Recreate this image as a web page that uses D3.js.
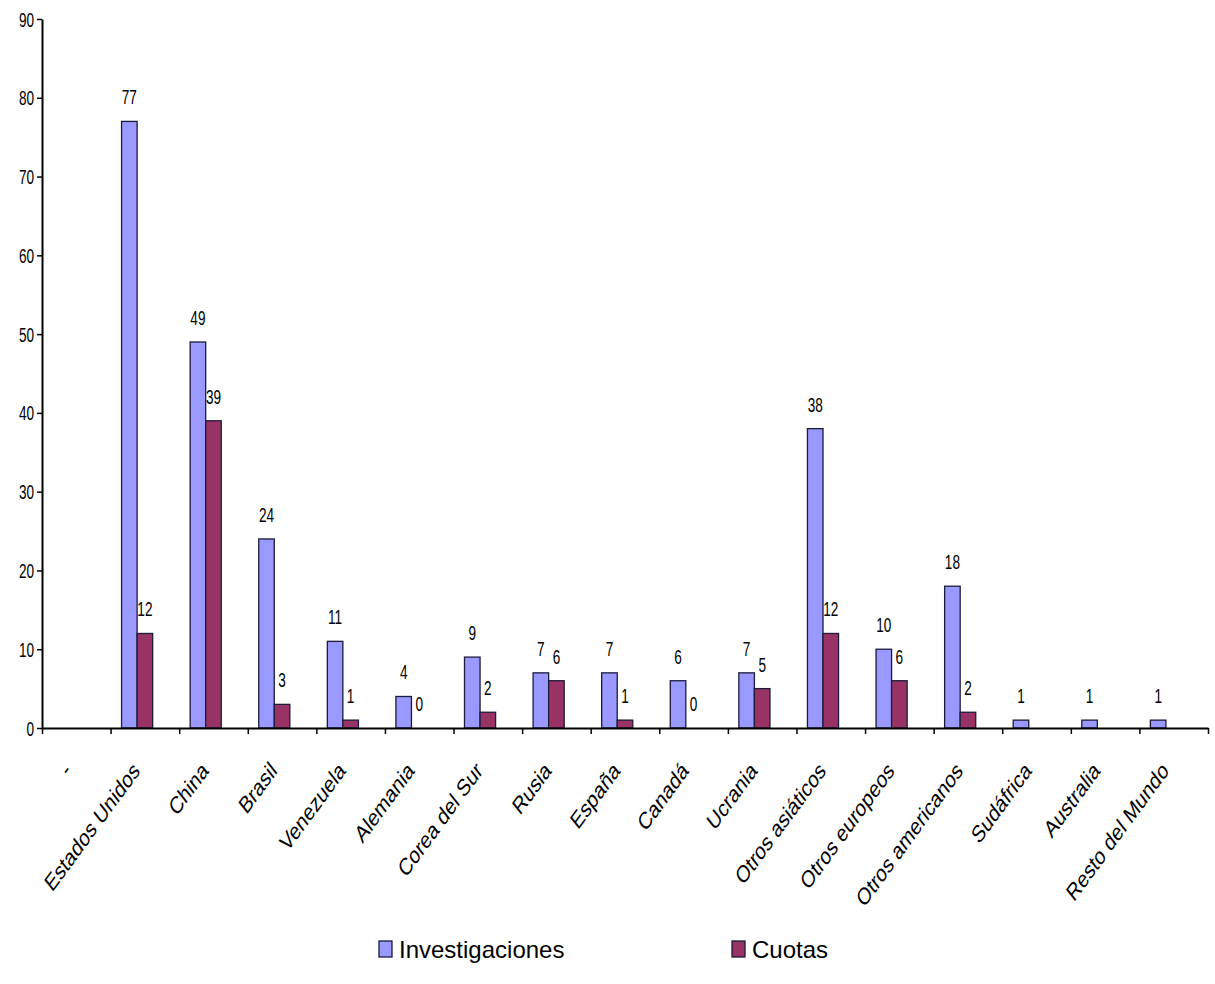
<!DOCTYPE html>
<html>
<head>
<meta charset="utf-8">
<script src="https://cdn.jsdelivr.net/npm/d3@7/dist/d3.min.js"></script>
<style>
  html, body { margin: 0; padding: 0; background: #fff; }
  svg { display: block; }
  text { font-family: "Liberation Sans", Arial, sans-serif; fill: #000; }
</style>
</head>
<body>
<svg id="chart" width="1215" height="984"></svg>
<script>
// Países / regiones
const categories = ["-", "Estados Unidos", "China", "Brasil", "Venezuela", "Alemania",
  "Corea del Sur", "Rusia", "España", "Canadá", "Ucrania", "Otros asiáticos",
  "Otros europeos", "Otros americanos", "Sudáfrica", "Australia", "Resto del Mundo"];

// Series
const seriesNames = ["Investigaciones", "Cuotas"];
const investigaciones = [null, 77, 49, 24, 11, 4, 9, 7, 7, 6, 7, 38, 10, 18, 1, 1, 1];
const cuotas = [null, 12, 39, 3, 1, 0, 2, 6, 1, 0, 5, 12, 6, 2, null, null, null];

const yTicks = [0, 10, 20, 30, 40, 50, 60, 70, 80, 90];
const colors = ["#9999FF", "#993366"];

const svg = d3.select("#chart");
const plotLeft = 42, plotRight = 1208, plotTop = 19, plotBottom = 728;

const x0 = d3.scaleBand().domain(categories).range([plotLeft, plotRight]).padding(0);
const y = d3.scaleLinear().domain([0, 90]).range([plotBottom, plotTop]);

// Three slots per cluster; the last one stays empty, so bars sit left of centre
const groupW = x0.bandwidth() * 0.68;
const x1 = d3.scaleBand().domain([0, 1, 2]).range([-groupW / 2, groupW / 2]);

const values = [investigaciones, cuotas];
const bars = [];
values.forEach((vals, s) => {
  vals.forEach((v, i) => {
    if (v !== null) bars.push({ s, cat: categories[i], v });
  });
});

// Bars
svg.append("g").selectAll("rect").data(bars).join("rect")
  .attr("x", d => x0(d.cat) + x0.bandwidth() / 2 + x1(d.s))
  .attr("width", x1.bandwidth())
  .attr("y", d => y(d.v))
  .attr("height", d => y(0) - y(d.v))
  .attr("fill", d => colors[d.s])
  .attr("stroke", "#1b1b3a")
  .attr("stroke-width", 1.3);

// Value labels
svg.append("g").selectAll("text").data(bars).join("text")
  .attr("text-anchor", "middle")
  .attr("font-size", 20)
  .attr("transform", d => {
    const cx = x0(d.cat) + x0.bandwidth() / 2 + x1(d.s) + x1.bandwidth() / 2;
    return `translate(${cx},${y(d.v) - 17}) scale(0.68,1)`;
  })
  .text(d => d.v);

// Y axis
const yAxis = svg.append("g")
  .attr("transform", `translate(${plotLeft},0)`)
  .call(d3.axisLeft(y).tickValues(yTicks).tickSize(5).tickSizeOuter(0));
yAxis.select(".domain").attr("stroke", "#000").attr("stroke-width", 2);
yAxis.selectAll(".tick line").attr("stroke", "#000").attr("stroke-width", 1.5);
yAxis.selectAll(".tick text")
  .attr("x", 0).attr("dy", "0.35em")
  .attr("font-size", 20)
  .attr("font-family", "Liberation Sans, Arial, sans-serif")
  .attr("transform", "translate(-8,0) scale(0.68,1)");

// X axis: tick marks on the category boundaries
const xb = d3.scaleLinear().domain([0, categories.length]).range([plotLeft, plotRight]);
const xAxis = svg.append("g")
  .attr("transform", `translate(0,${plotBottom})`)
  .call(d3.axisBottom(xb).tickValues(d3.range(categories.length + 1)).tickSize(6).tickSizeOuter(0).tickFormat(""));
xAxis.select(".domain").attr("stroke", "#000").attr("stroke-width", 2);
xAxis.selectAll(".tick line").attr("stroke", "#000").attr("stroke-width", 1.5);

// Category labels, rotated
const xLab = svg.append("g")
  .attr("transform", `translate(0,${plotBottom})`)
  .call(d3.axisBottom(x0).tickSize(0).tickSizeOuter(0));
xLab.select(".domain").remove();
xLab.selectAll(".tick text")
  .attr("x", 0).attr("y", 0).attr("dy", 0)
  .attr("text-anchor", "end")
  .attr("font-size", 24)
  .attr("font-family", "Liberation Sans, Arial, sans-serif")
  .attr("transform", "translate(-4,44) scale(0.76,1) rotate(-46)");

// Legend
const legendX = [379, 732];
const legend = svg.append("g").selectAll("g").data(seriesNames).join("g")
  .attr("transform", (d, i) => `translate(${legendX[i]},941)`);
legend.append("rect")
  .attr("width", 13).attr("height", 16)
  .attr("fill", (d, i) => colors[i])
  .attr("stroke", "#1b1b3a").attr("stroke-width", 1.3);
legend.append("text")
  .attr("x", 20).attr("y", 17)
  .attr("font-size", 24)
  .text(d => d);
</script>
</body>
</html>
